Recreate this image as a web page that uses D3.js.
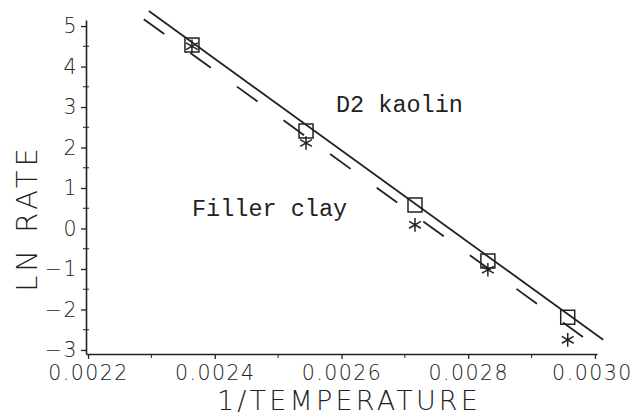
<!DOCTYPE html>
<html>
<head>
<meta charset="utf-8">
<script src="https://cdn.jsdelivr.net/npm/d3@7"></script>
<style>
  body { margin: 0; background: #fff; }
  text { fill: #222; }
</style>
</head>
<body>
<div></div>
<script>
// data
const kaolinX = [0.002364, 0.002544, 0.002716, 0.002831, 0.002957];
const kaolinY = [4.53, 2.41, 0.58, -0.80, -2.19];
const fillerX = [0.002364, 0.002544, 0.002716, 0.002831, 0.002957];
const fillerY = [4.50, 2.11, 0.09, -1.02, -2.75];
// fitted lines, end points
const kaolinFitX = [0.002296, 0.003013];
const kaolinFitY = [5.37, -2.75];
const fillerFitX = [0.002288, 0.002981];
const fillerFitY = [5.17, -2.68];
const xTicks = [0.0022, 0.0024, 0.0026, 0.0028, 0.0030];
const xMinor = [0.0023, 0.0025, 0.0027, 0.0029];
const yTicks = [-3, -2, -1, 0, 1, 2, 3, 4, 5];
const yMinor = [-2.5, -1.5, -0.5, 0.5, 1.5, 2.5, 3.5, 4.5];

const width = 636, height = 417;
const ink = "#222";

const svg = d3.select("body div")
    .append("svg")
    .attr("width", width)
    .attr("height", height);

const x = d3.scaleLinear()
    .domain([0.0021968, 0.0030032])
    .range([86, 597]);
const y = d3.scaleLinear()
    .domain([-3.1, 5.15])
    .range([354, 20]);

const numFont = "'DejaVu Sans', sans-serif";

// x axis
const gx = svg.append("g")
    .attr("transform", `translate(0,${y(-3.1)})`);
gx.call(d3.axisBottom(x).tickValues(xTicks).tickSize(5).tickSizeOuter(0)
    .tickFormat(d3.format(".4f")));
gx.append("g").selectAll("line")
    .data(xMinor)
    .join("line")
    .attr("x1", d => x(d)).attr("x2", d => x(d))
    .attr("y1", 0).attr("y2", 4)
    .attr("stroke", ink);

// y axis
const gy = svg.append("g")
    .attr("transform", `translate(${x(0.0021968)},0)`);
gy.call(d3.axisLeft(y).tickValues(yTicks).tickSize(5).tickSizeOuter(0)
    .tickFormat(d => d < 0 ? "\u2212" + Math.abs(d) : d));
gy.append("g").selectAll("line")
    .data(yMinor)
    .join("line")
    .attr("x1", -3).attr("x2", 3)
    .attr("y1", d => y(d)).attr("y2", d => y(d))
    .attr("stroke", ink);

svg.selectAll(".domain").attr("stroke", ink).attr("stroke-width", 1.6);
svg.selectAll(".tick line").attr("stroke", ink).attr("stroke-width", 1.3);
svg.selectAll(".tick text")
    .style("font-family", numFont)
    .style("font-weight", 200)
    .style("font-size", "20.5px")
    .style("letter-spacing", "1.5px")
    .attr("fill", ink);
gx.selectAll(".tick text").attr("dy", "0.9em");
gx.selectAll(".tick text").filter(d => d === 0.0030).attr("dx", -3);
gy.selectAll(".tick text").attr("x", -8);

// axis titles
svg.append("text")
    .attr("x", 349)
    .attr("y", 410)
    .attr("text-anchor", "middle")
    .style("font-family", numFont)
    .style("font-weight", 200)
    .style("font-size", "27px")
    .style("letter-spacing", "3.2px")
    .text("1/TEMPERATURE");

svg.append("text")
    .attr("transform", "translate(37,218) rotate(-90)")
    .attr("text-anchor", "middle")
    .style("font-family", numFont)
    .style("font-weight", 200)
    .style("font-size", "29px")
    .style("letter-spacing", "4px")
    .text("LN RATE");

// fitted lines
const line = d3.line().x(d => x(d[0])).y(d => y(d[1]));
svg.append("path")
    .datum(d3.zip(kaolinFitX, kaolinFitY))
    .attr("d", line)
    .attr("fill", "none")
    .attr("stroke", ink)
    .attr("stroke-width", 1.8);
svg.append("path")
    .datum(d3.zip(fillerFitX, fillerFitY))
    .attr("d", line)
    .attr("fill", "none")
    .attr("stroke", ink)
    .attr("stroke-width", 1.8)
    .attr("stroke-dasharray", "25.3,32.2");

// points
svg.append("g")
    .selectAll("path")
    .data(d3.zip(kaolinX, kaolinY))
    .join("path")
    .attr("transform", d => `translate(${x(d[0])},${y(d[1])})`)
    .attr("d", d3.symbol(d3.symbolSquare, 196))
    .attr("fill", "none")
    .attr("stroke", ink)
    .attr("stroke-width", 1.5);
svg.append("g")
    .selectAll("path")
    .data(d3.zip(fillerX, fillerY))
    .join("path")
    .attr("transform", d => `translate(${x(d[0])},${y(d[1])})`)
    .attr("d", d3.symbol(d3.symbolAsterisk, 130))
    .attr("fill", "none")
    .attr("stroke", ink)
    .attr("stroke-width", 1.5);

// labels
const monoFont = "'Liberation Mono', 'Courier New', monospace";
svg.append("text")
    .attr("x", 336)
    .attr("y", 112)
    .style("font-family", monoFont)
    .style("font-size", "23.5px")
    .attr("fill", "#333")
    .text("D2 kaolin");
svg.append("text")
    .attr("x", 192)
    .attr("y", 216)
    .style("font-family", monoFont)
    .style("font-size", "23.5px")
    .attr("fill", "#333")
    .text("Filler clay");
</script>
</body>
</html>
